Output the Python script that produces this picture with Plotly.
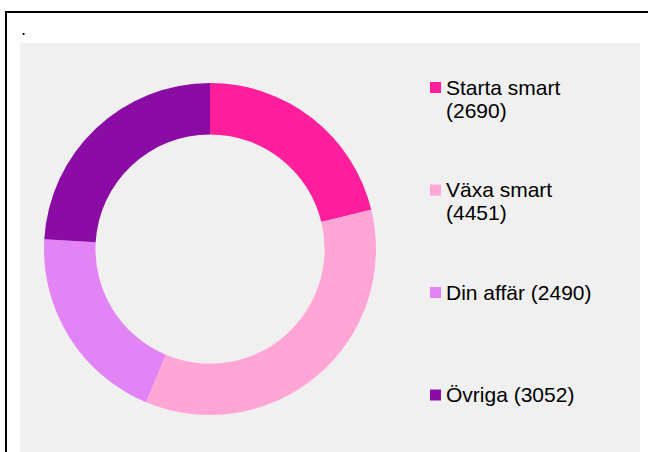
import textwrap
import plotly.graph_objects as go

W, H = 648, 452

categories = ["Starta smart", "Växa smart", "Din affär", "Övriga"]
values = [2690, 4451, 2490, 3052]
colors = ["#FF1E9B", "#FFA6D7", "#E283F6", "#8B0BA5"]

def px(x):
    return x / W

def py(y):
    return 1 - y / H

fig = go.Figure()

# donut
cx, cy, r = 210, 249, 166
fig.add_trace(go.Pie(
    labels=categories,
    values=values,
    marker=dict(colors=colors, line=dict(width=0)),
    hole=0.69,
    sort=False,
    direction="clockwise",
    rotation=0,
    textinfo="none",
    hoverinfo="label+value",
    showlegend=False,
    domain=dict(x=[px(cx - r), px(cx + r)], y=[py(cy + r), py(cy - r)]),
))

shapes = []
annotations = []

# gray panel and frame
shapes.append(dict(type="rect", xref="paper", yref="paper", layer="below",
                   x0=px(20), x1=px(640), y0=py(452), y1=py(43),
                   fillcolor="#F0F0F0", line=dict(width=0)))
shapes.append(dict(type="rect", xref="paper", yref="paper", layer="above",
                   x0=px(6), x1=px(700), y0=py(500), y1=py(12),
                   fillcolor="rgba(0,0,0,0)", line=dict(color="black", width=2)))

annotations.append(dict(text=".", x=px(19), y=py(29), xref="paper", yref="paper",
                        xanchor="left", yanchor="middle", showarrow=False,
                        font=dict(size=18, color="black", family="Liberation Sans, Arial")))

# legend
leg_y0, leg_step, line_step = 87.5, 102.5, 23
for i, (cat, val, col) in enumerate(zip(categories, values, colors)):
    yc = leg_y0 + i * leg_step
    shapes.append(dict(type="rect", xref="paper", yref="paper",
                       x0=px(430), x1=px(441), y0=py(yc + 5.5), y1=py(yc - 5.5),
                       fillcolor=col, line=dict(width=0)))
    lines = textwrap.wrap(f"{cat} ({val})", width=16)
    for j, ln in enumerate(lines):
        annotations.append(dict(text=ln, x=px(444), y=py(yc - 0.5 + j * line_step),
                                xref="paper", yref="paper", xanchor="left",
                                yanchor="middle", showarrow=False,
                                font=dict(size=21, color="black",
                                          family="Liberation Sans, Arial")))

fig.update_layout(
    width=W, height=H,
    margin=dict(l=0, r=0, t=0, b=0),
    paper_bgcolor="white",
    plot_bgcolor="white",
    shapes=shapes,
    annotations=annotations,
)

fig.write_html("out.html")
